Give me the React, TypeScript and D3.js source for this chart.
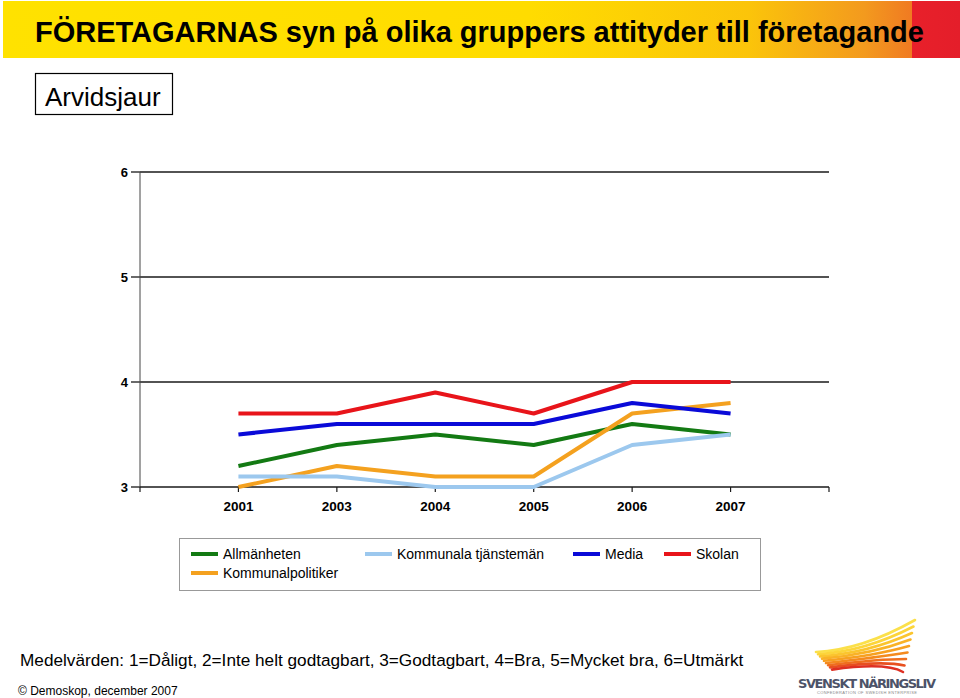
import React, { useEffect, useRef } from "react";
import * as d3 from "d3";

const years = ["2001", "2003", "2004", "2005", "2006", "2007"];
const yTicks = [3, 4, 5, 6];
const seriesNames = ["Allmänheten", "Kommunalpolitiker", "Kommunala tjänstemän", "Media", "Skolan"];
const allmanheten = [3.2, 3.4, 3.5, 3.4, 3.6, 3.5];
const kommunalpolitiker = [3.0, 3.2, 3.1, 3.1, 3.7, 3.8];
const kommunalaTjanstemän = [3.1, 3.1, 3.0, 3.0, 3.4, 3.5];
const media = [3.5, 3.6, 3.6, 3.6, 3.8, 3.7];
const skolan = [3.7, 3.7, 3.9, 3.7, 4.0, 4.0];
const seriesColors = ["#137a13", "#f4a11f", "#9cc8ee", "#0a0ad8", "#e8141a"];
const legendOrder = ["Allmänheten", "Kommunala tjänstemän", "Media", "Skolan", "Kommunalpolitiker"];

const title = "FÖRETAGARNAS syn på olika gruppers attityder till företagande";
const subtitle = "Arvidsjaur";
const note = "Medelvärden: 1=Dåligt, 2=Inte helt godtagbart, 3=Godtagbart, 4=Bra, 5=Mycket bra, 6=Utmärkt";
const source = "© Demoskop, december 2007";

export default function App() {
  const ref = useRef<SVGSVGElement>(null);

  useEffect(() => {
    const svg = d3.select(ref.current);
    svg.selectAll("*").remove();
    const font = "'Liberation Sans', Arial, sans-serif";

    const defs = svg.append("defs");
    const grad = defs.append("linearGradient").attr("id", "ban").attr("x1", 0).attr("x2", 1).attr("y1", 0).attr("y2", 0);
    [["0", "#ffe200"], ["0.55", "#ffdc00"], ["0.78", "#fbc40a"], ["0.9", "#f39a1e"], ["0.95", "#f07a22"], ["0.95", "#e8202a"], ["1", "#e41e2a"]].forEach(([o, c]) =>
      grad.append("stop").attr("offset", o).attr("stop-color", c)
    );
    svg.append("rect").attr("x", 3).attr("y", 1).attr("width", 957).attr("height", 57).attr("fill", "url(#ban)");
    svg.append("text").attr("x", 35).attr("y", 42).attr("font-family", font).attr("font-weight", "bold")
      .attr("font-size", 29).attr("fill", "#000").text(title);

    svg.append("rect").attr("x", 35.5).attr("y", 73.5).attr("width", 137).attr("height", 41)
      .attr("fill", "#fff").attr("stroke", "#000").attr("stroke-width", 1.2);
    svg.append("text").attr("x", 45).attr("y", 106).attr("font-family", font).attr("font-size", 26).text(subtitle);

    // chart
    const x0 = 140, x1 = 829, yTop = 172, yBot = 487;
    const y = d3.scaleLinear().domain([3, 6]).range([yBot, yTop]);
    const x = d3.scalePoint<string>().domain(["", ...years, " "]).range([x0, x1]);

    const g = svg.append("g");
    yTicks.forEach((t) => {
      if (t > 3) g.append("line").attr("x1", x0).attr("x2", x1).attr("y1", y(t)).attr("y2", y(t)).attr("stroke", "#1a1a1a").attr("stroke-width", 1.3);
      g.append("line").attr("x1", x0 - 9).attr("x2", x0).attr("y1", y(t)).attr("y2", y(t)).attr("stroke", "#1a1a1a").attr("stroke-width", 1.3);
      g.append("text").attr("x", x0 - 12).attr("y", y(t) + 5).attr("text-anchor", "end").attr("font-family", font)
        .attr("font-weight", "bold").attr("font-size", 13).text(String(t));
    });
    g.append("line").attr("x1", x0).attr("x2", x0).attr("y1", yTop).attr("y2", yBot).attr("stroke", "#444").attr("stroke-width", 1);
    g.append("line").attr("x1", x0).attr("x2", x1).attr("y1", yBot).attr("y2", yBot).attr("stroke", "#1a1a1a").attr("stroke-width", 1.3);
    x.domain().forEach((d) => {
      g.append("line").attr("x1", x(d)!).attr("x2", x(d)!).attr("y1", yBot).attr("y2", yBot + 5).attr("stroke", "#1a1a1a").attr("stroke-width", 1.2);
    });
    years.forEach((yr) => {
      g.append("text").attr("x", x(yr)!).attr("y", 511).attr("text-anchor", "middle").attr("font-family", font)
        .attr("font-weight", "bold").attr("font-size", 13.5).text(yr);
    });

    const data = [allmanheten, kommunalpolitiker, kommunalaTjanstemän, media, skolan];
    const line = d3.line<number>().x((_, i) => x(years[i])!).y((v) => y(v));
    data.forEach((vals, i) => {
      g.append("path").attr("d", line(vals)!).attr("fill", "none").attr("stroke", seriesColors[i])
        .attr("stroke-width", 4).attr("stroke-linejoin", "round");
    });

    // legend
    svg.append("rect").attr("x", 179.5).attr("y", 538.5).attr("width", 581).attr("height", 52)
      .attr("fill", "#fff").attr("stroke", "#999").attr("stroke-width", 1);
    const legPos = [[191, 554], [365, 554], [573, 554], [664, 554], [191, 573]];
    legendOrder.forEach((name, k) => {
      const idx = seriesNames.indexOf(name);
      const [lx, ly] = legPos[k];
      svg.append("line").attr("x1", lx).attr("x2", lx + 27).attr("y1", ly).attr("y2", ly)
        .attr("stroke", seriesColors[idx]).attr("stroke-width", 4);
      svg.append("text").attr("x", lx + 32).attr("y", ly + 4.5).attr("font-family", font).attr("font-size", 14).text(name);
    });

    svg.append("text").attr("x", 20).attr("y", 666).attr("font-family", font).attr("font-size", 17.2).text(note);
    svg.append("text").attr("x", 18).attr("y", 695).attr("font-family", font).attr("font-size", 12).text(source);

    // logo
    const logo = svg.append("g");
    const wingColors = ["#fbe04a", "#fcd53a", "#fbc52e", "#f9b226", "#f7a020", "#f48a1e", "#ef6f1e", "#e8501f", "#de3023"];
    wingColors.forEach((c, i) => {
      const sx = 816 + i * 2, sy = 652 + i * 2.2;
      const ex = 915 - i * 1.5, ey = 620 + i * 6.5;
      logo.append("path")
        .attr("d", `M${sx},${sy} Q${862 + i * 3},${650 + i * 1.5} ${ex},${ey}`)
        .attr("fill", "none").attr("stroke", c).attr("stroke-width", 2.6).attr("stroke-linecap", "round");
    });
    logo.append("text").attr("x", 867).attr("y", 688).attr("text-anchor", "middle").attr("font-family", "'DejaVu Sans', sans-serif")
      .attr("font-weight", "bold").attr("font-size", 13).attr("fill", "#4d5368").attr("textLength", 138).text("SVENSKT NÄRINGSLIV");
    logo.append("text").attr("x", 867).attr("y", 694).attr("text-anchor", "middle").attr("font-family", font)
      .attr("font-size", 4).attr("fill", "#888").attr("textLength", 100).text("CONFEDERATION OF SWEDISH ENTERPRISE");
  }, []);

  return (
    <svg ref={ref} width={960} height={698} style={{ position: "absolute", left: 0, top: 0, background: "#fff" }} />
  );
}
